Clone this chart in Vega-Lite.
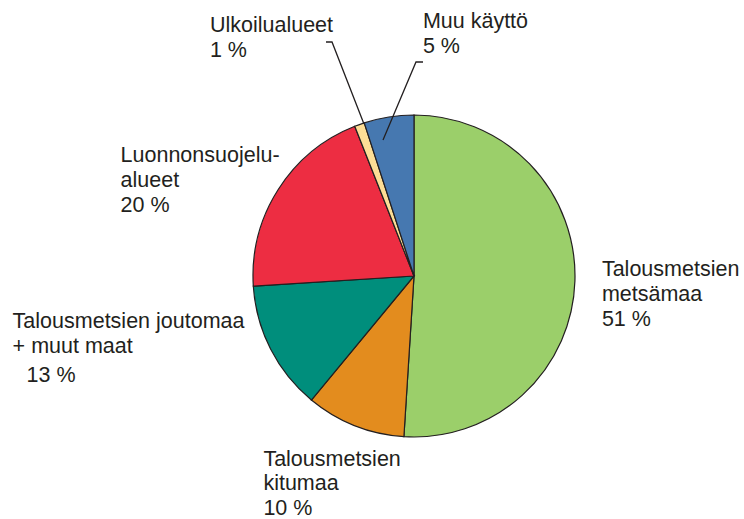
{
  "$schema": "https://vega.github.io/schema/vega-lite/v6.json",
  "width": 660,
  "height": 486,
  "autosize": "none",
  "padding": {"left": 84, "top": 33, "right": 0, "bottom": 0},
  "background": "white",
  "config": {
    "view": {"stroke": null},
    "text": {"font": "Liberation Sans", "fontSize": 21.5, "color": "#231F20", "align": "left", "baseline": "alphabetic", "lineHeight": 25, "lineBreak": "\n"}
  },
  "datasets": {
    "slices": [
      {"i": 1, "name": "Talousmetsien metsämaa", "label": "Talousmetsien\nmetsämaa", "value": 51},
      {"i": 2, "name": "Talousmetsien kitumaa", "label": "Talousmetsien\nkitumaa", "value": 10},
      {"i": 3, "name": "Talousmetsien joutomaa + muut maat", "label": "Talousmetsien joutomaa\n+ muut maat", "value": 13},
      {"i": 4, "name": "Luonnonsuojelualueet", "label": "Luonnonsuojelu-\nalueet", "value": 20},
      {"i": 5, "name": "Ulkoilualueet", "label": "Ulkoilualueet", "value": 1},
      {"i": 6, "name": "Muu käyttö", "label": "Muu käyttö", "value": 5}
    ],
    "leaders": [
      {"g": "u", "k": 1, "x": -0.5466, "y": 1.4534},
      {"g": "u", "k": 2, "x": -0.5093, "y": 1.4534},
      {"g": "u", "k": 3, "x": -0.3106, "y": 0.9441},
      {"g": "m", "k": 1, "x": 0.0559, "y": 1.3292},
      {"g": "m", "k": 2, "x": 0.0124, "y": 1.3292},
      {"g": "m", "k": 3, "x": -0.1925, "y": 0.8447}
    ]
  },
  "layer": [
    {
      "data": {"name": "slices"},
      "transform": [
        {"stack": "value", "groupby": [], "sort": [{"field": "i", "order": "ascending"}], "as": ["t0", "t1"]},
        {"calculate": "(datum.t0 + datum.t1) / 2", "as": "mid"},
        {"calculate": "datum.label + '\\n' + datum.value + ' %'", "as": "txt"},
        {"calculate": "datum.value + ' %'", "as": "pct"}
      ],
      "layer": [
        {
          "mark": {"type": "arc", "outerRadius": 161, "stroke": "#231F20", "strokeWidth": 1.2},
          "encoding": {
            "theta": {"field": "t0", "type": "quantitative", "scale": {"domain": [0, 100]}},
            "theta2": {"field": "t1"},
            "color": {
              "field": "name", "type": "nominal", "legend": null,
              "scale": {
                "domain": ["Talousmetsien metsämaa", "Talousmetsien kitumaa", "Talousmetsien joutomaa + muut maat", "Luonnonsuojelualueet", "Ulkoilualueet", "Muu käyttö"],
                "range": ["#9BCF6A", "#E38C1E", "#008E7C", "#ED2D42", "#FDDE96", "#4678B0"]
              }
            }
          }
        },
        {
          "transform": [{"filter": "datum.i == 1"}],
          "mark": {"type": "text", "radius": 190, "dx": -2, "dy": -6},
          "encoding": {"theta": {"field": "mid", "type": "quantitative"}, "text": {"field": "txt"}}
        },
        {
          "transform": [{"filter": "datum.i == 2"}],
          "mark": {"type": "text", "radius": 200, "dx": -77, "dy": 4, "lineHeight": 24.5},
          "encoding": {"theta": {"field": "mid", "type": "quantitative"}, "text": {"field": "txt"}}
        },
        {
          "transform": [{"filter": "datum.i == 3"}],
          "mark": {"type": "text", "radius": 180, "dx": -241, "dy": -30},
          "encoding": {"theta": {"field": "mid", "type": "quantitative"}, "text": {"field": "label"}}
        },
        {
          "transform": [{"filter": "datum.i == 3"}],
          "mark": {"type": "text", "radius": 180, "dx": -227, "dy": 24},
          "encoding": {"theta": {"field": "mid", "type": "quantitative"}, "text": {"field": "pct"}}
        },
        {
          "transform": [{"filter": "datum.i == 4"}],
          "mark": {"type": "text", "radius": 190, "dx": -133, "dy": -12},
          "encoding": {"theta": {"field": "mid", "type": "quantitative"}, "text": {"field": "txt"}}
        },
        {
          "transform": [{"filter": "datum.i == 5"}],
          "mark": {"type": "text", "radius": 260, "dx": -116, "dy": 1},
          "encoding": {"theta": {"field": "mid", "type": "quantitative"}, "text": {"field": "txt"}}
        },
        {
          "transform": [{"filter": "datum.i == 6"}],
          "mark": {"type": "text", "radius": 250, "dx": 48, "dy": -1},
          "encoding": {"theta": {"field": "mid", "type": "quantitative"}, "text": {"field": "txt"}}
        }
      ]
    },
    {
      "data": {"name": "leaders"},
      "mark": {"type": "line", "stroke": "#231F20", "strokeWidth": 1.3},
      "encoding": {
        "x": {"field": "x", "type": "quantitative", "axis": null, "scale": {"domain": [-2.0497, 2.0497], "nice": false, "zero": false}},
        "y": {"field": "y", "type": "quantitative", "axis": null, "scale": {"domain": [-1.5093, 1.5093], "nice": false, "zero": false}},
        "detail": {"field": "g"},
        "order": {"field": "k"}
      }
    }
  ]
}
